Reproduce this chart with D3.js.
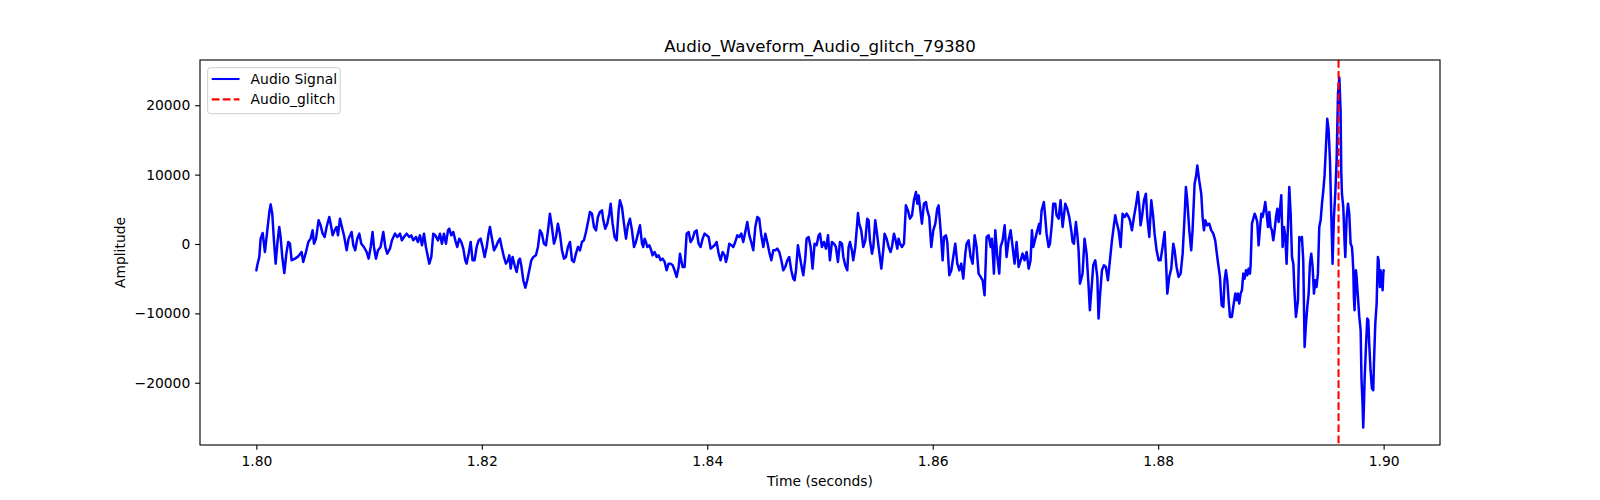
<!DOCTYPE html>
<html>
<head>
<meta charset="utf-8">
<script src="https://cdn.jsdelivr.net/npm/d3@7/dist/d3.min.js"></script>
<style>
  body { margin: 0; background: #ffffff; }
  svg { display: block; }
  text { font-family: "DejaVu Sans", sans-serif; fill: #000; }
</style>
</head>
<body>
<svg id="chart" width="1600" height="500"></svg>
<script>
// ---------------- data ----------------
const chartTitle = "Audio_Waveform_Audio_glitch_79380";
const xLabel = "Time (seconds)";
const yLabel = "Amplitude";
const legendLabels = ["Audio Signal", "Audio_glitch"];
const startTime = 1.8;           // seconds
const glitchTime = 1.896;        // seconds
const xTickValues = [1.80, 1.82, 1.84, 1.86, 1.88, 1.90];
const yTickValues = [-20000, -10000, 0, 10000, 20000];

// time offsets from startTime, in milliseconds
const timeOffsetMs = [
  0.00,0.08,0.26,0.38,0.56,0.76,0.97,1.15,1.27,1.41,
  1.56,1.71,1.89,2.03,2.15,2.30,2.48,2.66,2.83,2.98,
  3.13,3.42,3.72,4.01,4.16,4.40,4.61,4.81,4.99,5.11,
  5.29,5.52,5.70,5.88,6.06,6.23,6.47,6.59,6.77,6.94,
  7.12,7.24,7.42,7.59,7.77,8.01,8.18,8.45,8.60,8.77,
  8.95,9.13,9.31,9.54,9.78,9.96,10.14,10.31,10.43,10.61,
  10.79,11.02,11.26,11.44,11.61,11.85,12.03,12.30,12.50,12.74,
  12.91,13.09,13.33,13.57,13.74,13.92,14.16,14.33,14.51,14.69,
  14.87,15.04,15.22,15.34,15.52,15.69,15.87,16.11,
  16.29,16.46,16.64,16.82,17.00,17.11,17.29,17.47,17.65,17.82,
  18.00,18.18,18.36,18.53,18.65,18.83,19.01,19.18,19.36,19.54,
  19.72,19.89,20.07,20.25,20.43,20.60,20.72,20.90,21.08,21.25,
  21.43,21.61,21.79,21.96,22.14,22.32,22.44,22.56,22.73,22.91,
  23.09,23.27,23.38,23.50,23.68,23.86,24.03,24.21,24.39,24.57,
  24.80,24.98,25.16,25.33,25.51,25.69,25.87,26.04,26.22,26.40,
  26.58,26.75,26.93,27.11,27.29,27.46,27.64,27.82,28.00,28.17,
  28.35,28.53,28.71,28.88,29.06,29.24,29.42,29.59,29.77,29.95,
  30.13,30.30,30.48,30.66,30.78,30.95,31.13,31.31,31.43,31.60,
  31.78,31.96,32.14,32.25,32.43,32.61,32.79,32.96,33.14,33.32,
  33.50,33.67,33.85,34.03,
  34.21,34.32,34.44,34.56,34.68,34.86,35.03,35.15,35.33,35.51,
  35.68,35.86,36.04,36.22,36.39,36.57,36.75,36.93,37.10,37.28,
  37.46,37.58,37.69,37.81,37.99,38.17,38.35,38.52,38.70,38.88,
  39.05,39.23,39.41,39.59,39.76,39.94,40.12,40.30,40.47,40.65,
  40.83,41.01,41.18,41.36,41.54,41.66,41.77,41.95,42.13,42.31,
  42.48,42.66,42.84,43.02,43.19,43.37,43.55,43.73,43.90,44.08,
  44.26,44.44,44.61,44.79,44.97,45.15,45.32,45.50,45.68,45.86,
  46.03,46.21,46.39,46.57,46.74,46.92,47.10,47.27,47.45,47.63,
  47.75,47.87,48.04,48.22,48.40,48.52,48.69,48.81,48.99,49.17,
  49.34,49.52,49.70,49.88,50.00,50.17,50.35,50.53,50.71,50.88,
  51.06,51.24,51.41,51.59,51.77,
  51.95,52.07,52.24,52.42,52.54,52.66,52.83,52.95,53.13,53.25,
  53.37,53.48,53.66,53.84,54.02,54.19,54.31,54.43,54.61,54.73,
  54.90,55.02,55.20,55.44,55.61,55.73,55.91,56.09,56.26,56.38,
  56.56,56.68,56.86,56.97,57.09,57.27,57.45,57.62,57.80,57.98,
  58.16,58.33,58.51,58.63,58.75,58.87,59.04,59.22,59.40,59.52,
  59.69,59.87,60.05,60.23,60.40,60.52,60.70,60.88,61.00,61.17,
  61.29,61.47,61.65,61.82,62.00,62.18,62.36,62.53,62.71,62.89,
  63.01,63.18,63.36,63.54,63.72,63.89,64.07,64.25,64.43,64.60,
  64.78,64.96,65.14,65.25,65.43,65.55,65.73,65.90,66.02,66.20,
  66.38,66.55,66.73,66.91,67.09,67.26,67.44,67.62,67.80,67.97,
  68.15,68.33,68.51,68.68,68.80,68.92,69.10,69.28,69.45,
  69.51,69.66,69.86,69.98,70.10,70.28,70.40,70.57,70.69,70.87,
  70.99,71.17,71.34,71.52,71.64,71.76,71.93,72.11,72.29,72.41,
  72.53,72.70,72.82,72.94,73.06,73.18,73.29,73.47,73.65,73.83,
  73.94,74.12,74.24,74.42,74.60,74.71,74.83,75.01,75.19,75.36,
  75.54,75.72,75.90,76.07,76.19,76.31,76.49,76.67,76.84,77.02,
  77.20,77.38,77.49,77.67,77.85,78.03,78.20,78.32,78.44,78.56,
  78.74,78.91,79.03,79.21,79.39,79.56,79.68,79.86,80.04,80.21,
  80.39,80.57,80.69,80.81,80.98,81.16,81.34,81.46,81.63,81.81,
  81.99,82.17,82.34,82.46,82.58,82.76,82.93,83.05,83.23,83.35,
  83.47,83.64,83.82,83.94,84.06,84.18,84.35,84.53,84.71,84.89,
  85.06,85.24,85.36,
  85.48,85.63,85.78,85.89,86.01,86.13,86.25,86.37,86.54,86.66,
  86.84,86.96,87.08,87.19,87.31,87.43,87.55,87.67,87.79,87.90,
  88.02,88.14,88.20,88.32,88.44,88.56,88.67,88.79,88.91,89.03,
  89.15,89.26,89.38,89.50,89.62,89.74,89.86,89.97,90.09,90.21,
  90.33,90.45,90.57,90.68,90.80,90.92,91.04,91.16,91.28,91.39,
  91.51,91.63,91.75,91.87,91.99,92.10,92.22,92.40,92.52,92.64,
  92.75,92.87,92.99,93.11,93.23,93.35,93.46,93.58,93.70,93.82,
  93.94,94.05,94.17,94.29,94.41,94.53,94.65,94.76,94.88,95.00,
  95.12,95.24,95.36,95.47,95.59,95.71,95.83,95.95,96.07,96.18,
  96.24,96.30,96.42,96.54,96.60,96.72,96.84,96.95,97.07,97.19,
  97.25,97.31,97.36,97.42,97.48,97.54,97.60,97.66,97.72,97.84,
  97.96,98.04,98.13,98.19,98.25,98.31,98.43,98.55,98.64,98.72,
  98.84,98.96,99.08,99.14,99.26,99.38,99.43,99.49,99.55,99.61,
  99.67,99.73,99.85,99.91,99.97,100.00
];

// signal amplitude at each time offset
const amplitude = [
  -3800,-3070,-1870,770,1580,-1150,1970,4610,5710,4370,
  530,-2830,530,2450,1010,-1870,-4180,-1390,290,50,
  -2350,-2110,-1780,-1150,-2590,-1150,290,770,1970,50,
  770,3410,2690,1490,1010,2450,3890,2930,1250,1970,
  2450,1250,3650,2450,1250,-910,770,1730,-190,-910,
  770,1490,50,-430,-1150,-2110,-430,1730,-430,-2110,
  -910,-430,1730,-430,-1390,-670,530,1490,1010,1490,
  530,1010,1490,1010,1250,530,1010,290,1250,-190,
  1490,-430,-1870,-2830,-1870,1490,1250,530,
  1490,50,1490,50,1970,2210,1250,1730,530,-430,
  770,290,-670,-2350,-2830,-1390,290,-2350,-2350,-430,
  530,770,-430,-1870,-430,1490,2450,770,-910,-430,
  290,770,-670,-1870,-2830,-2350,-1630,-3550,-1870,-3070,
  -4030,-2350,-2110,-3070,-5230,-6290,-5230,-3790,-2350,-1870,
  -1630,-430,1970,1490,50,-190,1970,4370,2450,50,
  1010,2930,1490,-910,-2110,-1870,-430,290,-2350,-2590,
  -1390,-430,-910,290,530,1730,3170,4610,4370,2450,
  1970,3890,4610,4850,3410,2210,2930,4370,5810,2930,
  1010,530,4850,6290,5330,2930,770,2690,3650,1970,
  -430,290,1490,2690,
  50,-430,770,290,-430,-190,-910,-1630,-1150,-1870,
  -1630,-2350,-2110,-2590,-3790,-2830,-2830,-3070,-3790,-4750,
  -3310,-1390,-2350,-3310,-3310,1490,1730,290,770,1730,
  1970,50,-430,770,1490,1250,1010,-670,-430,-190,
  290,-1390,-2350,-1150,-1630,-2590,-1870,50,-190,-430,
  290,1250,1010,1490,290,1730,3170,1250,290,-910,
  2450,3890,3650,1250,-430,1490,290,-1150,-2350,-910,
  -910,-670,-1150,-2350,-3790,-3310,-2350,-1870,-3790,-4990,
  -5230,-3790,-190,-1870,-3550,-4510,-2110,770,1010,-430,
  -3550,50,-190,1250,1490,-430,290,-670,1250,-2350,
  290,50,-430,-2590,290,
  50,-1870,-3070,-3790,-430,290,-910,-2350,-430,1970,
  4460,2930,1970,-430,530,3650,3410,530,-1390,-430,
  3410,1970,-430,-3550,-910,1490,770,-430,-1150,-430,
  1490,770,-670,770,50,-430,50,5570,4850,3650,
  4130,6290,7490,5810,7010,5330,2930,5810,6050,4850,
  3890,-430,1970,2930,5090,5570,1970,-2350,1010,1250,
  290,-4510,-3790,-1870,50,-2830,-3790,-2830,-4990,-1390,
  50,530,-1870,-2830,1250,-430,-4270,-4750,-5230,-7390,
  1010,1250,-430,770,-4270,1970,-1870,-4270,-430,530,
  2690,-1870,530,1970,-430,-2830,290,-3310,-2350,-1390,
  -2350,-1150,-3550,-2350,1970,-430,770,1970,2930,
  1490,4850,6050,3890,1490,-430,50,2930,5810,5810,
  4130,3650,6290,2450,4130,5810,5090,3890,1970,290,
  50,3170,1490,-910,-5710,-4990,-4270,770,-1390,-6190,
  -9550,-5710,-3070,-2350,-4750,-10750,-7630,-3790,-3070,-3310,
  -5230,-2350,530,2690,4130,3170,1970,-430,4370,3890,
  4370,3890,3410,1970,3890,5570,7490,5570,2690,3890,
  6290,7250,3890,1010,6290,3890,1490,-910,-2350,-2350,
  -430,1730,-2350,-7150,-4750,-3550,50,-910,-3310,-4750,
  -4270,-1390,3890,8210,6290,1970,-910,1970,8690,9650,
  11330,9170,7250,3890,1970,3410,2690,2930,1970,1490,
  530,-1870,-3310,
  -4750,-8830,-9070,-5230,-3790,-5230,-8110,-10510,-10510,-9070,
  -7150,-8110,-7150,-8590,-7150,-6670,-4270,-4990,-3790,-4510,
  -3550,-4270,-3070,2930,3650,4370,3890,3170,-190,2210,
  4370,3890,4850,6050,4370,2450,4610,2450,1970,530,
  1970,3890,5090,3170,4850,7010,-430,2450,1010,-2830,
  2450,8210,4370,-1870,-2830,-7150,-10510,-8110,1010,530,
  1010,-2350,-14830,-11470,-9070,-7150,-2830,-1390,-3310,-7150,
  -5230,-6190,-4270,2450,3410,5810,7730,9890,13970,18050,
  16370,12050,3890,-2830,3890,7250,12050,21650,24000,19250,
  10610,7250,5330,50,-1870,3890,5810,4370,50,-430,
  -1870,-3790,-7630,-9550,-6670,-3790,-4750,-6190,-7630,-10510,
  -12430,-19630,-23000,-26450,-23470,-19630,-14830,-10750,-10990,-14350,
  -18190,-20830,-21070,-17230,-11470,-8590,-5230,-1870,-2350,-4270,
  -6190,-3790,-5710,-6670,-4270,-3790
];

// ---------------- layout ----------------
const W = 1600, H = 500;
const plot = { left: 200, right: 1440, top: 60, bottom: 445 };
const PT = 100 / 72; // px per point

const data = timeOffsetMs.map((ms, i) => ({ t: startTime + ms / 1000, v: amplitude[i] }));

const svg = d3.select("#chart");
svg.append("rect").attr("width", W).attr("height", H).attr("fill", "#ffffff");

const tExt = d3.extent(data, d => d.t);
const vExt = d3.extent(data, d => d.v);
const tPad = (tExt[1] - tExt[0]) * 0.05;
const vPad = (vExt[1] - vExt[0]) * 0.05;

const x = d3.scaleLinear().domain([tExt[0] - tPad, tExt[1] + tPad]).range([plot.left, plot.right]);
const y = d3.scaleLinear().domain([vExt[0] - vPad, vExt[1] + vPad]).range([plot.bottom, plot.top]);

const tickLen = 3.5 * PT;
const fmtY = d => (d < 0 ? "\u2212" + Math.abs(d) : String(d));

// x axis
const gx = svg.append("g")
  .attr("transform", `translate(0,${plot.bottom})`)
  .call(d3.axisBottom(x).tickValues(xTickValues).tickFormat(d3.format(".2f"))
    .tickSize(tickLen).tickPadding(6.6).tickSizeOuter(0));
gx.select(".domain").remove();
gx.selectAll(".tick line").attr("stroke", "#000").attr("stroke-width", 0.8 * PT);
gx.selectAll(".tick text").attr("font-size", 10 * PT).attr("font-family", "DejaVu Sans").attr("fill", "#000");

// y axis
const gy = svg.append("g")
  .attr("transform", `translate(${plot.left},0)`)
  .call(d3.axisLeft(y).tickValues(yTickValues).tickFormat(fmtY)
    .tickSize(tickLen).tickPadding(3.5 * PT).tickSizeOuter(0));
gy.select(".domain").remove();
gy.selectAll(".tick line").attr("stroke", "#000").attr("stroke-width", 0.8 * PT);
gy.selectAll(".tick text").attr("font-size", 10 * PT).attr("font-family", "DejaVu Sans").attr("fill", "#000");

// signal line (slightly heavier to match the dense sample jitter of the original)
const line = d3.line().x(d => x(d.t)).y(d => y(d.v));
svg.append("path")
  .datum(data)
  .attr("d", line)
  .attr("fill", "none")
  .attr("stroke", "#0000ff")
  .attr("stroke-width", 2.5)
  .attr("stroke-linejoin", "round")
  .attr("stroke-linecap", "round");

// glitch marker
svg.append("line")
  .attr("x1", x(glitchTime)).attr("x2", x(glitchTime))
  .attr("y1", plot.top).attr("y2", plot.bottom)
  .attr("stroke", "#ff0000")
  .attr("stroke-width", 1.5 * PT)
  .attr("stroke-dasharray", `${3.7 * 1.5 * PT},${1.6 * 1.5 * PT}`);

// spines
svg.append("rect")
  .attr("x", plot.left).attr("y", plot.top)
  .attr("width", plot.right - plot.left).attr("height", plot.bottom - plot.top)
  .attr("fill", "none").attr("stroke", "#000").attr("stroke-width", 0.8 * PT);

// title and axis labels
svg.append("text")
  .attr("x", (plot.left + plot.right) / 2).attr("y", 51.7)
  .attr("text-anchor", "middle").attr("font-size", 12 * PT)
  .text(chartTitle);
svg.append("text")
  .attr("x", (plot.left + plot.right) / 2).attr("y", 486)
  .attr("text-anchor", "middle").attr("font-size", 10 * PT)
  .text(xLabel);
svg.append("text")
  .attr("transform", `translate(124.5,${(plot.top + plot.bottom) / 2}) rotate(-90)`)
  .attr("text-anchor", "middle").attr("font-size", 10 * PT)
  .text(yLabel);

// legend
const lg = svg.append("g");
lg.append("rect")
  .attr("x", 207.7).attr("y", 67.7).attr("width", 132.5).attr("height", 46)
  .attr("rx", 2.8).attr("ry", 2.8)
  .attr("fill", "#ffffff").attr("fill-opacity", 0.8)
  .attr("stroke", "#cccccc").attr("stroke-width", 1);
const legendStyles = [
  { color: "#0000ff", dash: null },
  { color: "#ff0000", dash: `${3.7 * 1.5 * PT},${1.6 * 1.5 * PT}` }
];
legendLabels.forEach((lab, i) => {
  const cy = 79 + i * 20.4;
  const ln = lg.append("line")
    .attr("x1", 211.7).attr("x2", 239.5).attr("y1", cy).attr("y2", cy)
    .attr("stroke", legendStyles[i].color).attr("stroke-width", 1.5 * PT);
  if (legendStyles[i].dash) ln.attr("stroke-dasharray", legendStyles[i].dash);
  lg.append("text")
    .attr("x", 250.6).attr("y", cy + 4.8)
    .attr("font-size", 10 * PT)
    .text(lab);
});
</script>
</body>
</html>
